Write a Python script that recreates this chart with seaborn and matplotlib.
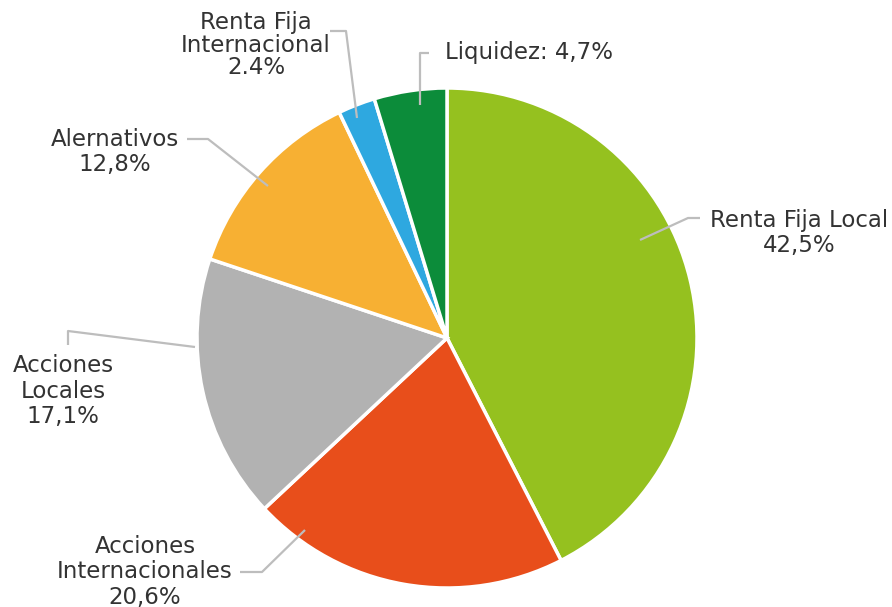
import matplotlib
matplotlib.use("Agg")
import matplotlib.pyplot as plt
import seaborn as sns

categories = ["Renta Fija Local", "Acciones Internacionales", "Acciones Locales",
              "Alernativos", "Renta Fija Internacional", "Liquidez"]
values = [42.5, 20.6, 17.1, 12.8, 2.4, 4.7]
labels = ["Renta Fija Local\n42,5%", "Acciones\nInternacionales\n20,6%",
          "Acciones\nLocales\n17,1%", "Alernativos\n12,8%",
          "Renta Fija\nInternacional\n2.4%", "Liquidez: 4,7%"]
colors = ["#95C11F", "#E84E1B", "#B2B2B2", "#F7B033", "#2EA8E0", "#0C8C3A"]

sns.set_theme(style="white")
plt.rcParams['font.family'] = ['DejaVu Sans']

W, H = 892, 607
fig = plt.figure(figsize=(W / 100, H / 100), dpi=100)
ax = fig.add_axes([0, 0, 1, 1])

cx, cy, r = 447, 338, 250
# y axis inverted: counterclock=True draws clockwise visually; start at top = -90
ax.pie(values, colors=sns.color_palette(colors), startangle=-90, counterclock=True,
       center=(cx, cy), radius=r, frame=True,
       wedgeprops=dict(edgecolor="white", linewidth=2.5))
ax.set_xlim(0, W)
ax.set_ylim(H, 0)
ax.set_aspect("equal")
ax.axis("off")

lc = "#BDBDBD"
lw = 1.6
# leader lines (pixel coords)
leaders = [
    [(640, 240), (688, 218), (700, 218)],
    [(305, 530), (262, 572), (240, 572)],
    [(195, 347), (68, 331), (68, 345)],
    [(268, 186), (208, 139), (187, 139)],
    [(357, 118), (346, 31), (330, 31)],
    [(420, 105), (420, 53), (429, 53)],
]
for pts in leaders:
    xs, ys = zip(*pts)
    ax.plot(xs, ys, color=lc, lw=lw, solid_capstyle="butt")

tc = "#333333"
fs = 16.5
texts = [
    (799, 233, labels[0], "center", 1.12),
    (145, 572, labels[1], "center", 1.12),
    (63, 391, labels[2], "center", 1.12),
    (115, 152, labels[3], "center", 1.1),
    (256, 45, labels[4], "center", 1.0),
    (445, 53, labels[5], "left", 1.0),
]
for x, y, t, ha, ls in texts:
    ax.text(x, y, t, ha=ha, va="center", fontsize=fs, color=tc,
            linespacing=ls, multialignment="center")

fig.savefig("out.png", dpi=100, facecolor="white")
